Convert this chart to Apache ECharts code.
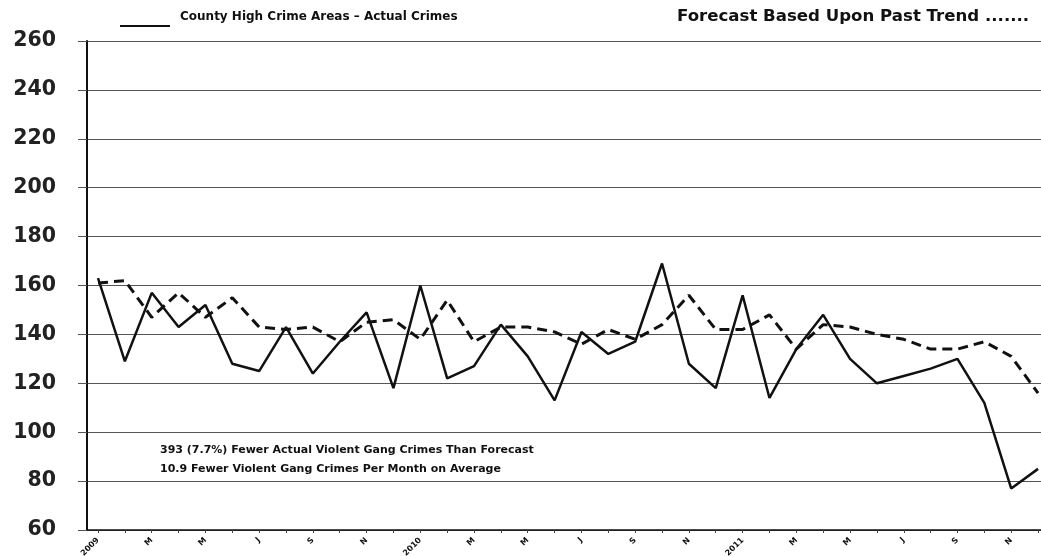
<!DOCTYPE html>
<html>
<head>
<meta charset="utf-8">
<script src="https://cdn.jsdelivr.net/npm/echarts@6/dist/echarts.min.js"></script>
<style>
  html, body { margin: 0; padding: 0; background: #fff; }
  #chart { width: 1041px; height: 556px; }
</style>
</head>
<body>
<div id="chart"></div>
<script>
// Monthly violent gang crimes, Jan 2009 – Dec 2011 (index 0 = Jan 2009)
const actualCrimes = [163, 129, 157, 143, 152, 128, 125, 143, 124, 137, 149, 118,
                      160, 122, 127, 144, 131, 113, 141, 132, 137, 169, 128, 118,
                      156, 114, 134, 148, 130, 120, 123, 126, 130, 112, 77, 85];
const forecastCrimes = [161, 162, 147, 157, 147, 155, 143, 142, 143, 137, 145, 146,
                        138, 154, 137, 143, 143, 141, 136, 142, 138, 144, 156, 142,
                        142, 148, 134, 144, 143, 140, 138, 134, 134, 137, 131, 116];
// Labels shown every other month
const monthTickIndex = [0, 2, 4, 6, 8, 10, 12, 14, 16, 18, 20, 22, 24, 26, 28, 30, 32, 34];
const monthTickLabels = ['2009', 'M', 'M', 'J', 'S', 'N',
                         '2010', 'M', 'M', 'J', 'S', 'N',
                         '2011', 'M', 'M', 'J', 'S', 'N'];
const allMonths = actualCrimes.map((_, i) => i);

const FONT = '"DejaVu Sans", "Liberation Sans", sans-serif';
const chart = echarts.init(document.getElementById('chart'), null, { renderer: 'canvas' });

chart.setOption({
  animation: false,
  backgroundColor: '#ffffff',
  grid: { left: 87, right: 0, top: 41, bottom: 26, containLabel: false, outerBoundsMode: 'none' },
  xAxis: {
    type: 'value',
    min: -0.41,
    max: 35.11,
    axisLine: { show: true, onZero: false, lineStyle: { color: '#111', width: 1.5 } },
    axisTick: { show: true, customValues: allMonths, length: 3, lineStyle: { color: '#444' } },
    splitLine: { show: false },
    axisLabel: {
      customValues: monthTickIndex,
      rotate: 45,
      margin: 9,
      fontFamily: FONT,
      fontWeight: 'bold',
      fontSize: 8,
      color: '#111',
      formatter: v => monthTickLabels[monthTickIndex.indexOf(Math.round(v))] || ''
    }
  },
  yAxis: {
    type: 'value',
    min: 60,
    max: 260,
    interval: 20,
    axisLine: { show: true, onZero: false, lineStyle: { color: '#111', width: 2 } },
    axisTick: { show: true, length: 9, inside: false, lineStyle: { color: '#555' } },
    splitLine: { show: true, lineStyle: { color: '#555', width: 1 } },
    axisLabel: {
      margin: 31,
      fontFamily: FONT,
      fontWeight: 'bold',
      fontSize: 20.5,
      color: '#222'
    }
  },
  series: [
    {
      name: 'County High Crime Areas – Actual Crimes',
      type: 'line',
      data: actualCrimes.map((v, i) => [i, v]),
      symbol: 'none',
      lineStyle: { color: '#111', width: 2.5, type: 'solid' },
      z: 3
    },
    {
      name: 'Forecast Based Upon Past Trend',
      type: 'line',
      data: forecastCrimes.map((v, i) => [i, v]),
      symbol: 'none',
      lineStyle: { color: '#111', width: 3, type: [10, 6] },
      z: 2
    }
  ],
  graphic: [
    {
      type: 'line',
      shape: { x1: 120, y1: 26, x2: 170, y2: 26 },
      style: { stroke: '#111', lineWidth: 2 }
    },
    {
      type: 'text',
      left: 180, top: 11,
      style: { text: 'County High Crime Areas – Actual Crimes', font: 'bold 12px ' + FONT, fill: '#111' }
    },
    {
      type: 'text',
      left: 677, top: 8,
      style: { text: 'Forecast Based Upon Past Trend .......', font: 'bold 16.6px ' + FONT, fill: '#111' }
    },
    {
      type: 'text',
      left: 160, top: 441,
      style: {
        text: '393 (7.7%) Fewer Actual Violent Gang Crimes Than Forecast\n10.9 Fewer Violent Gang Crimes Per Month on Average',
        font: 'bold 11px ' + FONT,
        lineHeight: 19,
        fill: '#111'
      }
    }
  ]
});
</script>
</body>
</html>
